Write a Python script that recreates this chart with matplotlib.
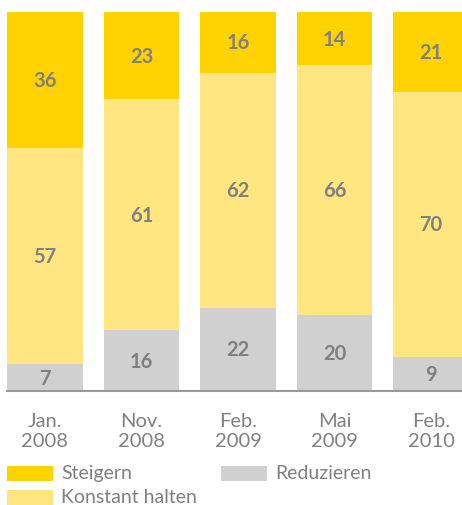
import numpy as np
import matplotlib
matplotlib.use("Agg")
import matplotlib.pyplot as plt
from matplotlib.patches import Rectangle

plt.rcParams['font.family'] = ['Lato', 'DejaVu Sans']

periods = ["Jan.\n2008", "Nov.\n2008", "Feb.\n2009", "Mai\n2009", "Feb.\n2010"]
reduzieren = [7, 16, 22, 20, 9]
konstant = [57, 61, 62, 66, 70]
steigern = [36, 23, 16, 14, 21]

GOLD = "#FFD200"
LIGHT = "#FFE680"
GREY = "#D0D0D0"
TXT = "#808080"

W, H = 462, 506
fig = plt.figure(figsize=(W / 100, H / 100), dpi=100)
ax = fig.add_axes([0, (H - 392) / H, 1, (392 - 13) / H])

x = np.arange(len(periods))
width = 0.787
series = [(reduzieren, GREY), (konstant, LIGHT), (steigern, GOLD)]
bottom = np.zeros(len(periods))
for vals, col in series:
    vals = np.array(vals)
    ax.bar(x, vals, width, bottom=bottom, color=col, linewidth=0)
    for xi, b, v in zip(x, bottom, vals):
        ax.text(xi, b + v / 2, str(v), ha="center", va="center",
                fontsize=14.5, fontweight="bold", color=TXT)
    bottom += vals

ax.set_xlim(-45 / 96.5, (462 - 45) / 96.5)
ax.set_ylim(0, 100)
ax.plot([-width / 2, 5], [0, 0], color="#999999", lw=1.5, clip_on=False)
for s in ax.spines.values():
    s.set_visible(False)
ax.set_yticks([])
ax.set_xticks(x)
ax.set_xticklabels(periods, fontsize=14.5, color=TXT, linespacing=1.2)
ax.tick_params(axis="x", length=0, pad=15)

# legend drawn by hand
legend = [("Steigern", GOLD, 7, 467), ("Reduzieren", GREY, 221, 467),
          ("Konstant halten", LIGHT, 7, 491)]
for label, col, px, py in legend:
    fig.patches.append(Rectangle((px / W, 1 - (py + 15) / H), 46 / W, 15 / H,
                                 transform=fig.transFigure, color=col, lw=0))
    fig.text((px + 54) / W, 1 - (py + 7) / H, label, fontsize=14,
             color=TXT, va="center", ha="left")

fig.savefig("out.png", dpi=100)
